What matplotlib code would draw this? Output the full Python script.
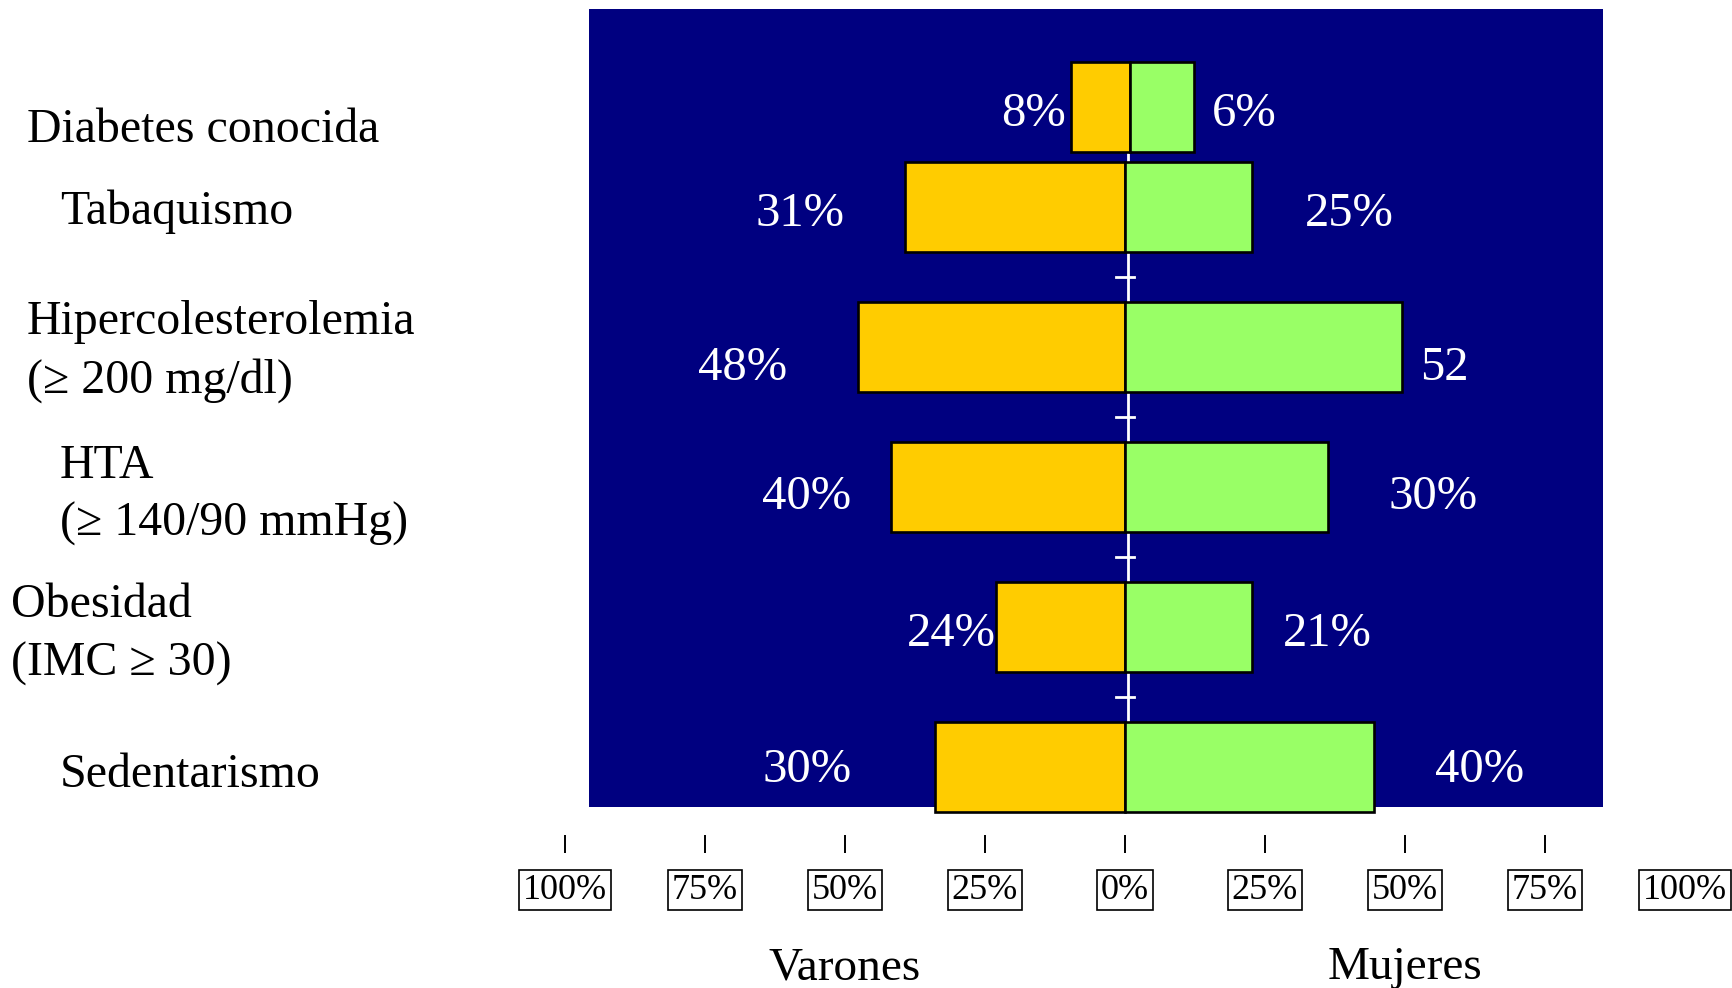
import matplotlib
matplotlib.use("Agg")
import matplotlib.pyplot as plt
from matplotlib.patches import Rectangle

# ---------------- data ----------------
categorias = ["Diabetes conocida", "Tabaquismo", "Hipercolesterolemia\n(≥ 200 mg/dl)",
              "HTA\n(≥ 140/90 mmHg)", "Obesidad\n(IMC ≥ 30)", "Sedentarismo"]
# bar lengths as drawn in the picture (percent units of the axis)
varones = [10.6, 39.3, 47.6, 41.8, 23.1, 33.9]
mujeres = [11.5, 22.7, 49.5, 36.3, 22.7, 44.4]
etiquetas_varones = ["8%", "31%", "48%", "40%", "24%", "30%"]
etiquetas_mujeres = ["6%", "25%", "52", "30%", "21%", "40%"]
ticks = [-100, -75, -50, -25, 0, 25, 50, 75, 100]
tick_labels = ["100%", "75%", "50%", "25%", "0%", "25%", "50%", "75%", "100%"]

# ---------------- layout ----------------
PX_X = 5.6      # pixels per percent
PX_Y = 140.0    # pixels per row unit
W, H = 1733, 988
y_filas = [106.7 / PX_Y, 206.7 / PX_Y, 346.7 / PX_Y, 486.7 / PX_Y, 626.7 / PX_Y, 766.7 / PX_Y]
alto = 90 / PX_Y
centro = [0.9, 0, 0, 0, 0, 0]
x_lab_v = [-10.5, -50.0, -60.4, -48.9, -23.0, -48.9]
x_lab_m = [15.5, 32.1, 52.7, 47.1, 28.2, 55.4]
dy_lab = [0.05, 0.05, 0.155, 0.075, 0.05, 0.025]
x_cat = [-196.1, -190.2, -196.1, -190.2, -198.9, -190.2]
dy_cat = [0.165, 0.035, 0.035, 0.06, 0.055, 0.06]

AMARILLO = "#FFCC00"
VERDE = "#99FF66"
AZUL = "#000080"
SERIF = ["Liberation Serif", "DejaVu Serif"]

fig = plt.figure(figsize=(W / 100, H / 100), dpi=100)
ax = fig.add_axes([0, 0, 1, 1])
ax.set_xlim(-1125 / PX_X, (W - 1125) / PX_X)
ax.set_ylim(H / PX_Y, 0)
ax.set_facecolor("white")
for s in ax.spines.values():
    s.set_visible(False)

# navy panel
ax.add_patch(Rectangle(((589 - 1125) / PX_X, 9 / PX_Y), (1603 - 589) / PX_X, (807 - 9) / PX_Y,
                       facecolor=AZUL, edgecolor="none", zorder=0))

# white centre line with crosses
ax.plot([0.6, 0.6], [y_filas[0] + alto / 2, y_filas[-1] - alto / 2], color="white", lw=2.0, zorder=1)
for i in range(1, len(y_filas) - 1):
    ym = (y_filas[i] + y_filas[i + 1]) / 2
    ax.plot([-1.65, 1.6], [ym, ym], color="white", lw=2.0, zorder=1)

# bars
ax.barh(y_filas, [-v for v in varones], left=centro, height=alto, color=AMARILLO,
        edgecolor="black", linewidth=1.9, zorder=2)
ax.barh(y_filas, mujeres, left=centro, height=alto, color=VERDE,
        edgecolor="black", linewidth=1.9, zorder=2)

# value labels
for i in range(len(categorias)):
    ax.text(x_lab_v[i], y_filas[i] + dy_lab[i], etiquetas_varones[i], ha="right", va="center",
            color="white", fontsize=35, family=SERIF, zorder=3)
    ax.text(x_lab_m[i], y_filas[i] + dy_lab[i], etiquetas_mujeres[i], ha="left", va="center",
            color="white", fontsize=35, family=SERIF, zorder=3)

# category labels
for i, c in enumerate(categorias):
    ax.text(x_cat[i], y_filas[i] + dy_cat[i], c, ha="left", va="center", multialignment="left",
            color="black", fontsize=34.5, family=SERIF, linespacing=1.42)

# axis ticks
ax.spines["bottom"].set_position(("data", 844 / PX_Y))
ax.set_xticks(ticks)
ax.set_xticklabels(tick_labels)
ax.tick_params(axis="x", direction="inout", length=13, width=1.4, pad=15, colors="black")
ax.set_yticks([])
for lbl in ax.get_xticklabels():
    lbl.set_fontfamily(SERIF)
    lbl.set_fontsize(26)
    lbl.set_bbox(dict(facecolor="white", edgecolor="black", linewidth=1.2, pad=2.5))
ax.xaxis.get_major_ticks()[-1].tick1line.set_visible(False)
ax.xaxis.get_major_ticks()[-1].tick2line.set_visible(False)

# group titles
ax.text(-50, 979 / PX_Y, "Varones", ha="center", va="baseline", fontsize=34, family=SERIF)
ax.text(50, 979 / PX_Y, "Mujeres", ha="center", va="baseline", fontsize=34, family=SERIF)

fig.savefig("out.png", dpi=100)
